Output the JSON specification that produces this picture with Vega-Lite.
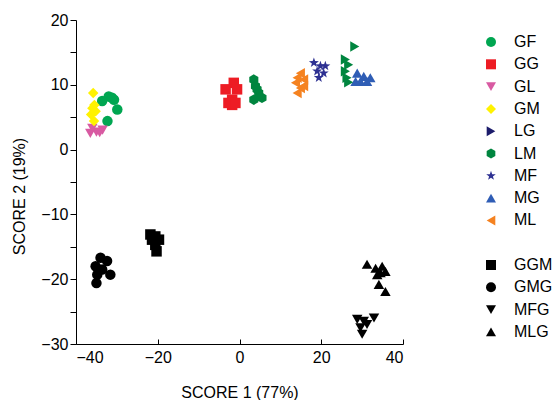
{
  "$schema": "https://vega.github.io/schema/vega-lite/v6.json",
  "autosize": "none",
  "padding": {"left": 76, "top": 20, "right": 155, "bottom": 56},
  "width": 327,
  "height": 324,
  "config": {
    "view": {"stroke": null},
    "font": "Liberation Sans",
    "axis": {"grid": false, "domainColor": "#000", "tickColor": "#000", "labelColor": "#000", "titleColor": "#000", "labelFont": "Liberation Sans", "titleFont": "Liberation Sans", "titleFontWeight": "normal"},
    "legend": {"labelFont": "Liberation Sans", "labelColor": "#000"}
  },
  "data": {"values": [
    {"g": "GF", "x": -32.0, "y": 8.2},
    {"g": "GF", "x": -30.7, "y": 7.7},
    {"g": "GF", "x": -29.9, "y": 6.2},
    {"g": "GF", "x": -32.3, "y": 4.4},
    {"g": "GF", "x": -33.6, "y": 7.5},
    {"g": "GF", "x": -31.2, "y": 8.0},
    {"g": "GG", "x": -1.4, "y": 10.3},
    {"g": "GG", "x": -3.4, "y": 9.3},
    {"g": "GG", "x": -0.6, "y": 9.3},
    {"g": "GG", "x": -1.8, "y": 7.7},
    {"g": "GG", "x": -1.8, "y": 6.9},
    {"g": "GG", "x": -2.7, "y": 7.2},
    {"g": "GG", "x": -1.0, "y": 7.2},
    {"g": "GL", "x": -36.5, "y": 2.5},
    {"g": "GL", "x": -35.0, "y": 2.7},
    {"g": "GL", "x": -33.5, "y": 3.0},
    {"g": "GL", "x": -36.0, "y": 3.3},
    {"g": "GL", "x": -34.2, "y": 2.6},
    {"g": "GM", "x": -35.8, "y": 8.75},
    {"g": "GM", "x": -36.0, "y": 6.4},
    {"g": "GM", "x": -36.3, "y": 5.4},
    {"g": "GM", "x": -35.6, "y": 4.4},
    {"g": "GM", "x": -35.2, "y": 5.9},
    {"g": "GM", "x": -35.5, "y": 6.9},
    {"g": "LG", "x": 28.2, "y": 15.9},
    {"g": "LG", "x": 25.9, "y": 13.9},
    {"g": "LG", "x": 26.7, "y": 13.1},
    {"g": "LG", "x": 25.9, "y": 12.1},
    {"g": "LG", "x": 26.3, "y": 11.1},
    {"g": "LG", "x": 26.7, "y": 10.4},
    {"g": "LM", "x": 3.5, "y": 10.8},
    {"g": "LM", "x": 3.9, "y": 9.8},
    {"g": "LM", "x": 4.7, "y": 8.75},
    {"g": "LM", "x": 5.5, "y": 8.0},
    {"g": "LM", "x": 3.5, "y": 7.7},
    {"g": "LM", "x": 4.3, "y": 9.3},
    {"g": "MF", "x": 18.2, "y": 13.4},
    {"g": "MF", "x": 19.8, "y": 12.9},
    {"g": "MF", "x": 21.0, "y": 12.9},
    {"g": "MF", "x": 19.0, "y": 12.1},
    {"g": "MF", "x": 20.6, "y": 11.8},
    {"g": "MF", "x": 19.4, "y": 11.1},
    {"g": "MG", "x": 28.8, "y": 11.8},
    {"g": "MG", "x": 30.4, "y": 11.3},
    {"g": "MG", "x": 32.0, "y": 11.1},
    {"g": "MG", "x": 29.6, "y": 10.5},
    {"g": "MG", "x": 31.2, "y": 10.5},
    {"g": "MG", "x": 28.4, "y": 10.5},
    {"g": "ML", "x": 14.9, "y": 11.8},
    {"g": "ML", "x": 14.1, "y": 11.1},
    {"g": "ML", "x": 15.7, "y": 10.8},
    {"g": "ML", "x": 13.7, "y": 10.3},
    {"g": "ML", "x": 14.9, "y": 9.5},
    {"g": "ML", "x": 14.1, "y": 8.75},
    {"g": "ML", "x": 15.7, "y": 9.8},
    {"g": "GGM", "x": -21.8, "y": -13.1},
    {"g": "GGM", "x": -20.6, "y": -13.4},
    {"g": "GGM", "x": -19.7, "y": -13.9},
    {"g": "GGM", "x": -20.6, "y": -14.7},
    {"g": "GGM", "x": -20.3, "y": -15.7},
    {"g": "GGM", "x": -21.4, "y": -13.9},
    {"g": "GMG", "x": -34.0, "y": -16.7},
    {"g": "GMG", "x": -32.4, "y": -17.2},
    {"g": "GMG", "x": -35.2, "y": -18.0},
    {"g": "GMG", "x": -33.6, "y": -18.5},
    {"g": "GMG", "x": -31.6, "y": -19.3},
    {"g": "GMG", "x": -34.8, "y": -19.3},
    {"g": "GMG", "x": -35.0, "y": -20.6},
    {"g": "MFG", "x": 28.8, "y": -26.2},
    {"g": "MFG", "x": 30.4, "y": -26.5},
    {"g": "MFG", "x": 32.9, "y": -26.0},
    {"g": "MFG", "x": 29.6, "y": -27.5},
    {"g": "MFG", "x": 30.0, "y": -28.5},
    {"g": "MFG", "x": 31.2, "y": -27.0},
    {"g": "MLG", "x": 31.2, "y": -17.7},
    {"g": "MLG", "x": 33.3, "y": -18.3},
    {"g": "MLG", "x": 34.9, "y": -18.0},
    {"g": "MLG", "x": 35.7, "y": -18.8},
    {"g": "MLG", "x": 33.7, "y": -19.3},
    {"g": "MLG", "x": 34.5, "y": -19.0},
    {"g": "MLG", "x": 34.1, "y": -20.8},
    {"g": "MLG", "x": 35.7, "y": -21.9}
  ]},
  "encoding": {
    "x": {"field": "x", "type": "quantitative", "scale": {"domain": [-40, 40], "nice": false, "zero": false},
      "axis": {"values": [-40, -20, 0, 20, 40], "tickSize": -5, "labelPadding": 10, "labelFontSize": 16, "title": "SCORE 1 (77%)", "titleFontSize": 16, "titlePadding": 19}},
    "y": {"field": "y", "type": "quantitative", "scale": {"domain": [-30, 20], "nice": false, "zero": false},
      "axis": {"values": [-30, -25, -20, -15, -10, -5, 0, 5, 10, 15, 20], "labelExpr": "datum.value % 10 === 0 ? datum.label : ''", "tickSize": 6, "labelPadding": 2, "labelFontSize": 16, "title": "SCORE 2 (19%)", "titleFontSize": 16, "titlePadding": 13, "titleY": 176}}
  },
  "layer": [
    {
      "transform": [{"filter": "indexof(['GF','GG','GL','GM','LM','MF','MG','ML'], datum.g) >= 0"}],
      "mark": {"type": "point", "filled": true, "opacity": 1, "size": 110},
      "encoding": {
        "color": {"field": "g", "type": "nominal",
          "scale": {"domain": ["GF","GG","GL","GM","LG","LM","MF","MG","ML"],
                    "range": ["#00a651","#ed1c24","#d85aa2","#fff200","#1c1c6b","#00853f","#2e3192","#2f5db5","#f58220"]},
          "legend": {"title": null, "orient": "none", "legendX": 407, "legendY": 14, "padding": 0, "symbolSize": 100, "labelFontSize": 16, "labelOffset": 15, "rowPadding": 6.3, "symbolOpacity": 1}},
        "shape": {"field": "g", "type": "nominal",
          "scale": {"domain": ["GF","GG","GL","GM","LG","LM","MF","MG","ML"],
                    "range": ["circle","square","triangle-down","diamond","triangle-right","M0,-1L0.866,-0.5L0.866,0.5L0,1L-0.866,0.5L-0.866,-0.5Z","M0,-1L0.235,-0.324L0.951,-0.309L0.38,0.124L0.588,0.809L0,0.4L-0.588,0.809L-0.38,0.124L-0.951,-0.309L-0.235,-0.324Z","triangle-up","triangle-left"]},
          "legend": {"title": null, "orient": "none", "legendX": 407, "legendY": 14, "padding": 0, "symbolSize": 100, "labelFontSize": 16, "labelOffset": 15, "rowPadding": 6.3, "symbolOpacity": 1}}
      }
    },
    {
      "transform": [{"filter": "datum.g === 'LG'"}],
      "mark": {"type": "point", "filled": true, "opacity": 1, "size": 110, "shape": "triangle-right", "color": "#00853f"},
      "encoding": {}
    },
    {
      "transform": [{"filter": "indexof(['GGM','GMG','MFG','MLG'], datum.g) >= 0"}],
      "mark": {"type": "point", "filled": true, "opacity": 1, "size": 110, "color": "#000"},
      "encoding": {
        "shape": {"field": "g", "type": "nominal",
          "scale": {"domain": ["GGM","GMG","MFG","MLG"], "range": ["square","circle","triangle-down","triangle-up"]},
          "legend": {"title": null, "orient": "none", "legendX": 407, "legendY": 237, "padding": 0, "symbolSize": 100, "labelFontSize": 16, "labelOffset": 15, "rowPadding": 6.3, "symbolFillColor": "#000", "symbolStrokeColor": "#000", "symbolOpacity": 1}}
      }
    }
  ],
  "resolve": {"scale": {"shape": "independent", "color": "independent"}}
}
